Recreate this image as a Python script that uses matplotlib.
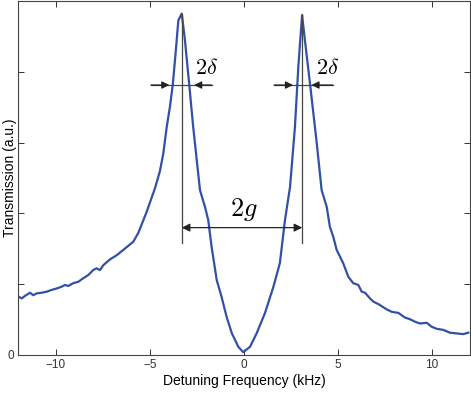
import matplotlib
matplotlib.use("Agg")
import matplotlib.pyplot as plt

# Transmission spectrum, values (kHz, a.u.)
freq = [-12.0, -11.82, -11.65, -11.38, -11.21, -11.03, -10.76, -10.49, -10.23, -9.96,
        -9.70, -9.52, -9.35, -9.08, -8.81, -8.55, -8.28, -8.02, -7.84, -7.66,
        -7.48, -7.13, -6.77, -6.42, -5.89, -5.62,
        -5.18, -4.73, -4.47, -4.29, -4.11, -3.94, -3.79, -3.67, -3.49, -3.31,
        -3.14, -2.91, -2.70, -2.34, -2.07, -1.90, -1.72, -1.45, -1.19, -0.92,
        -0.65, -0.30, -0.04, 0.32, 0.68, 1.12, 1.56, 1.91, 2.18, 2.45,
        2.71, 2.89, 3.09, 3.24, 3.51, 3.87, 4.13, 4.40, 4.57, 4.75,
        4.93, 5.11, 5.28, 5.55, 5.81, 6.08, 6.26, 6.44, 6.70, 6.88,
        7.14, 7.32, 7.59, 7.86, 8.21, 8.56, 8.83, 9.10, 9.36, 9.72,
        9.98, 10.25, 10.60, 10.96, 11.31, 11.66, 11.93]
trans = [0.165, 0.160, 0.167, 0.176, 0.169, 0.174, 0.176, 0.179, 0.184, 0.188,
         0.193, 0.198, 0.195, 0.203, 0.207, 0.217, 0.226, 0.240, 0.245, 0.240,
         0.254, 0.270, 0.282, 0.297, 0.320, 0.345,
         0.404, 0.472, 0.520, 0.570, 0.644, 0.701, 0.763, 0.833, 0.946, 0.965,
         0.890, 0.763, 0.644, 0.466, 0.418, 0.381, 0.305, 0.212, 0.164, 0.107,
         0.062, 0.023, 0.008, 0.023, 0.062, 0.119, 0.192, 0.260, 0.381, 0.475,
         0.644, 0.814, 0.960, 0.890, 0.768, 0.599, 0.466, 0.419, 0.362, 0.334,
         0.297, 0.278, 0.259, 0.221, 0.203, 0.198, 0.179, 0.176, 0.160, 0.151,
         0.144, 0.138, 0.129, 0.122, 0.119, 0.106, 0.101, 0.094, 0.089, 0.091,
         0.080, 0.074, 0.071, 0.063, 0.061, 0.059, 0.063]

peaks = [-3.31, 3.10]
xticks = [-10, -5, 0, 5, 10]
yticks = [0, 0.2, 0.4, 0.6, 0.8, 1.0]

plt.rcParams['font.family'] = ['Liberation Sans', 'DejaVu Sans']
plt.rcParams['mathtext.fontset'] = 'cm'

fig = plt.figure(figsize=(4.71, 3.94), dpi=100)
ax = fig.add_axes([0.039, 0.099, 0.958, 0.898])

ax.plot(freq, trans, color='#3350a8', lw=1.6)

gray = '#444444'
# vertical markers at the peaks
for p in peaks:
    ax.plot([p, p], [0.316, 0.965], color=gray, lw=0.9)

# 2g arrow
ax.annotate('', xy=(peaks[1], 0.36), xytext=(peaks[0], 0.36),
            arrowprops=dict(arrowstyle='<|-|>', color='#222222', lw=0.9,
                            shrinkA=0, shrinkB=0, mutation_scale=12))
ax.text(0, 0.41, r'$2g$', ha='center', va='center', fontsize=19)

# 2 delta arrows
for p, half, lo, hi, tx in [(peaks[0], 0.66, -4.95, -1.72, -1.99),
                            (peaks[1], 0.49, 1.60, 4.72, 4.47)]:
    ax.plot([lo, hi], [0.763, 0.763], color=gray, lw=0.9)
    ax.annotate('', xy=(p - half, 0.763), xytext=(lo, 0.763),
                arrowprops=dict(arrowstyle='-|>', color='#222222', lw=0.9,
                                shrinkA=0, shrinkB=0, mutation_scale=11))
    ax.annotate('', xy=(p + half, 0.763), xytext=(hi, 0.763),
                arrowprops=dict(arrowstyle='-|>', color='#222222', lw=0.9,
                                shrinkA=0, shrinkB=0, mutation_scale=11))
    ax.text(tx, 0.81, r'$2\delta$', ha='center', va='center', fontsize=16)

ax.set_xlim(-12, 12)
ax.set_ylim(0, 1.0)
ax.set_xticks(xticks)
ax.set_xticklabels(['\u221210', '\u22125', '0', '5', '10'])
ax.set_yticks(yticks)
ax.set_yticklabels(['0', '', '', '', '', ''])
ax.tick_params(direction='in', top=True, right=True, length=4, width=0.7,
               labelsize=8.5, colors='#333333', pad=3)
for s in ax.spines.values():
    s.set_color('#444444')
    s.set_linewidth(0.8)

ax.set_xlabel('Detuning Frequency (kHz)', fontsize=10, labelpad=2)
ax.set_ylabel('Transmission (a.u.)', fontsize=10, va='center')
ax.yaxis.set_label_coords(-0.019, 0.5)

fig.savefig('out.png', dpi=100)
